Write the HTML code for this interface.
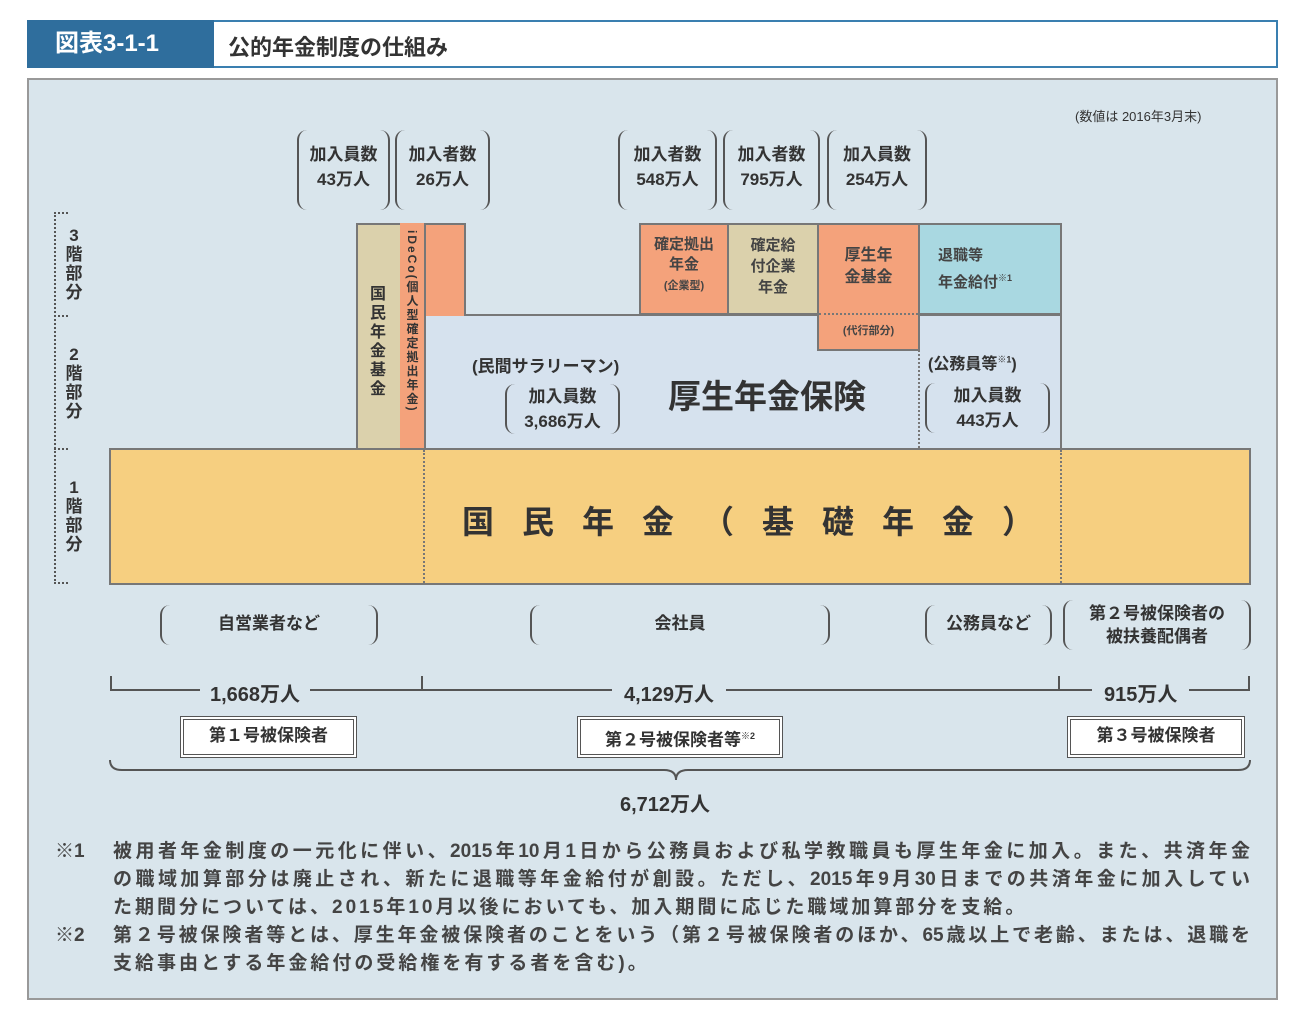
<!DOCTYPE html>
<html><head><meta charset="utf-8"><style>
body{margin:0;width:1300px;height:1031px;background:#fff;position:relative;font-family:"Liberation Sans","Noto Sans CJK JP",sans-serif;color:#333;overflow:hidden}
.a{position:absolute;box-sizing:border-box}
.t{position:absolute;white-space:nowrap;font-weight:bold}
.br{position:absolute;box-sizing:border-box;border-left:2px solid #555;border-right:2px solid #555;border-radius:10px;text-align:center;font-weight:bold;font-size:17px;line-height:25px;color:#333}
.box{position:absolute;box-sizing:border-box;border:2px solid #777;text-align:center;font-weight:bold;color:#444}
.dbl{position:absolute;box-sizing:border-box;border:4px double #555;background:#fff;text-align:center;font-weight:bold;font-size:17px;line-height:32px}
.j{display:block;white-space:nowrap;text-align:justify;text-align-last:justify;width:1137px}
.nl{display:block;white-space:nowrap;letter-spacing:3px}
</style></head><body>
<div class="a" style="left:27px;top:20px;width:1251px;height:48px;border:2px solid #3a7fb0;background:#fff"></div>
<div class="a" style="left:27px;top:20px;width:187px;height:48px;background:#2f6e9d;color:#fff;font-weight:bold;font-size:24px;line-height:48px;padding-left:28px">図表3-1-1</div>
<div class="t" style="left:228px;top:30px;font-size:22px">公的年金制度の仕組み</div>

<div class="a" style="left:27px;top:78px;width:1251px;height:922px;background:#d9e5ec;border:2px solid #999"></div>
<div class="t" style="left:1075px;top:106px;font-size:13px;font-weight:normal">(数値は 2016年3月末)</div>

<div class="br" style="left:297px;top:130px;width:93px;height:80px;padding-top:12px">加入員数<br>43万人</div>
<div class="br" style="left:395px;top:130px;width:95px;height:80px;padding-top:12px">加入者数<br>26万人</div>
<div class="br" style="left:618px;top:130px;width:99px;height:80px;padding-top:12px">加入者数<br>548万人</div>
<div class="br" style="left:723px;top:130px;width:97px;height:80px;padding-top:12px">加入者数<br>795万人</div>
<div class="br" style="left:827px;top:130px;width:100px;height:80px;padding-top:12px">加入員数<br>254万人</div>

<div class="a" style="left:54px;top:212px;width:0;height:372px;border-left:2px dotted #555"></div>
<div class="a" style="left:54px;top:212px;width:14px;border-top:2px dotted #555"></div>
<div class="a" style="left:54px;top:315px;width:14px;border-top:2px dotted #555"></div>
<div class="a" style="left:54px;top:448px;width:14px;border-top:2px dotted #555"></div>
<div class="a" style="left:54px;top:582px;width:14px;border-top:2px dotted #555"></div>
<div class="t" style="left:64px;top:226px;width:20px;font-size:17px;line-height:19px;white-space:normal;text-align:center">3<br>階<br>部<br>分</div>
<div class="t" style="left:64px;top:345px;width:20px;font-size:17px;line-height:19px;white-space:normal;text-align:center">2<br>階<br>部<br>分</div>
<div class="t" style="left:64px;top:478px;width:20px;font-size:17px;line-height:19px;white-space:normal;text-align:center">1<br>階<br>部<br>分</div>

<div class="box" style="left:424px;top:314px;width:638px;height:136px;background:#d6e2ee"></div>
<div class="a" style="left:918px;top:314px;height:134px;border-left:2px dotted #777"></div>
<div class="box" style="left:356px;top:223px;width:46px;height:227px;background:#dbd1ac"></div>
<div class="t" style="left:368px;top:285px;width:20px;font-size:16px;line-height:19px;white-space:normal;text-align:center">国民年金基金</div>
<div class="a" style="left:400px;top:223px;width:66px;height:93px;background:#f4a27b;border:2px solid #777;border-left:none;border-bottom:none"></div>
<div class="a" style="left:400px;top:223px;width:26px;height:227px;background:#f4a27b;border:2px solid #777;border-left:none;border-top:none"></div>
<div class="t" style="left:403px;top:230px;height:215px;writing-mode:vertical-rl;font-size:12px;line-height:18px;letter-spacing:2px;overflow:hidden">iDeCo(個人型確定拠出年金)</div>

<div class="box" style="left:639px;top:223px;width:90px;height:92px;background:#f4a27b;font-size:15px;line-height:20px;padding-top:10px">確定拠出<br>年金<br><span style="font-size:11px">(企業型)</span></div>
<div class="box" style="left:727px;top:223px;width:92px;height:92px;background:#dbd1ac;font-size:15px;line-height:21px;padding-top:10px">確定給<br>付企業<br>年金</div>
<div class="box" style="left:817px;top:223px;width:103px;height:128px;background:#f4a27b;font-size:16px;line-height:22px;padding-top:20px">厚生年<br>金基金<div style="position:absolute;left:0;right:0;top:88px;border-top:2px dotted #777"></div><div style="position:absolute;left:0;right:0;top:98px;font-size:11px;line-height:16px">(代行部分)</div></div>
<div class="box" style="left:918px;top:223px;width:144px;height:92px;background:#a9d8e1;font-size:15px;line-height:22px;padding-top:20px;text-align:left;padding-left:18px">退職等<br>年金給付<sup style="font-size:9px">※1</sup></div>

<div class="t" style="left:472px;top:352px;font-size:17px">(民間サラリーマン)</div>
<div class="br" style="left:505px;top:384px;width:115px;height:50px">加入員数<br>3,686万人</div>
<div class="t" style="left:668px;top:370px;font-size:33px">厚生年金保険</div>
<div class="t" style="left:928px;top:350px;font-size:16px">(公務員等<sup style="font-size:9px">※1</sup>)</div>
<div class="br" style="left:925px;top:383px;width:125px;height:50px">加入員数<br>443万人</div>

<div class="box" style="left:109px;top:448px;width:1142px;height:137px;background:#f6cf80"></div>
<div class="a" style="left:423px;top:450px;height:133px;border-left:2px dotted #777"></div>
<div class="a" style="left:1060px;top:450px;height:133px;border-left:2px dotted #777"></div>
<div class="t" style="left:462px;top:497px;font-size:32px;letter-spacing:28px">国民年金（基礎年金）</div>

<div class="br" style="left:160px;top:605px;width:218px;height:40px;line-height:38px">自営業者など</div>
<div class="br" style="left:530px;top:605px;width:300px;height:40px;line-height:38px">会社員</div>
<div class="br" style="left:925px;top:605px;width:127px;height:40px;line-height:38px">公務員など</div>
<div class="br" style="left:1063px;top:600px;width:188px;height:50px;line-height:23px;padding-top:2px">第２号被保険者の<br>被扶養配偶者</div>

<div class="a" style="left:110px;top:676px;width:313px;height:15px;border:2px solid #555;border-top:none"></div>
<div class="a" style="left:423px;top:676px;width:637px;height:15px;border-bottom:2px solid #555;border-right:2px solid #555"></div>
<div class="a" style="left:1060px;top:676px;width:190px;height:15px;border-bottom:2px solid #555;border-right:2px solid #555"></div>
<div class="t" style="left:200px;top:678px;font-size:20px;background:#d9e5ec;padding:0 10px">1,668万人</div>
<div class="t" style="left:612px;top:678px;font-size:20px;background:#d9e5ec;padding:0 12px">4,129万人</div>
<div class="t" style="left:1092px;top:678px;font-size:20px;background:#d9e5ec;padding:0 12px">915万人</div>

<div class="dbl" style="left:180px;top:716px;width:177px;height:42px">第１号被保険者</div>
<div class="dbl" style="left:577px;top:716px;width:206px;height:42px">第２号被保険者等<sup style="font-size:9px">※2</sup></div>
<div class="dbl" style="left:1067px;top:716px;width:178px;height:42px">第３号被保険者</div>

<svg class="a" style="left:0;top:0" width="1300" height="1031"><path d="M110,760 Q110,770 122,770 L664,770 Q676,770 676,780 Q676,770 688,770 L1238,770 Q1250,770 1250,760" fill="none" stroke="#555" stroke-width="2"/></svg>
<div class="t" style="left:620px;top:788px;font-size:20px">6,712万人</div>

<div class="a" style="left:55px;top:838px;width:1210px;font-size:19px;line-height:28px;font-weight:bold;color:#444">
<div style="display:flex"><span style="width:58px">※1</span><span>
<span class="j">被用者年金制度の一元化に伴い、2015年10月1日から公務員および私学教職員も厚生年金に加入。また、共済年金</span>
<span class="j">の職域加算部分は廃止され、新たに退職等年金給付が創設。ただし、2015年9月30日までの共済年金に加入してい</span>
<span class="nl">た期間分については、2015年10月以後においても、加入期間に応じた職域加算部分を支給。</span></span></div>
<div style="display:flex"><span style="width:58px">※2</span><span>
<span class="j">第２号被保険者等とは、厚生年金被保険者のことをいう（第２号被保険者のほか、65歳以上で老齢、または、退職を</span>
<span class="nl">支給事由とする年金給付の受給権を有する者を含む)。</span></span></div>
</div>
</body></html>
